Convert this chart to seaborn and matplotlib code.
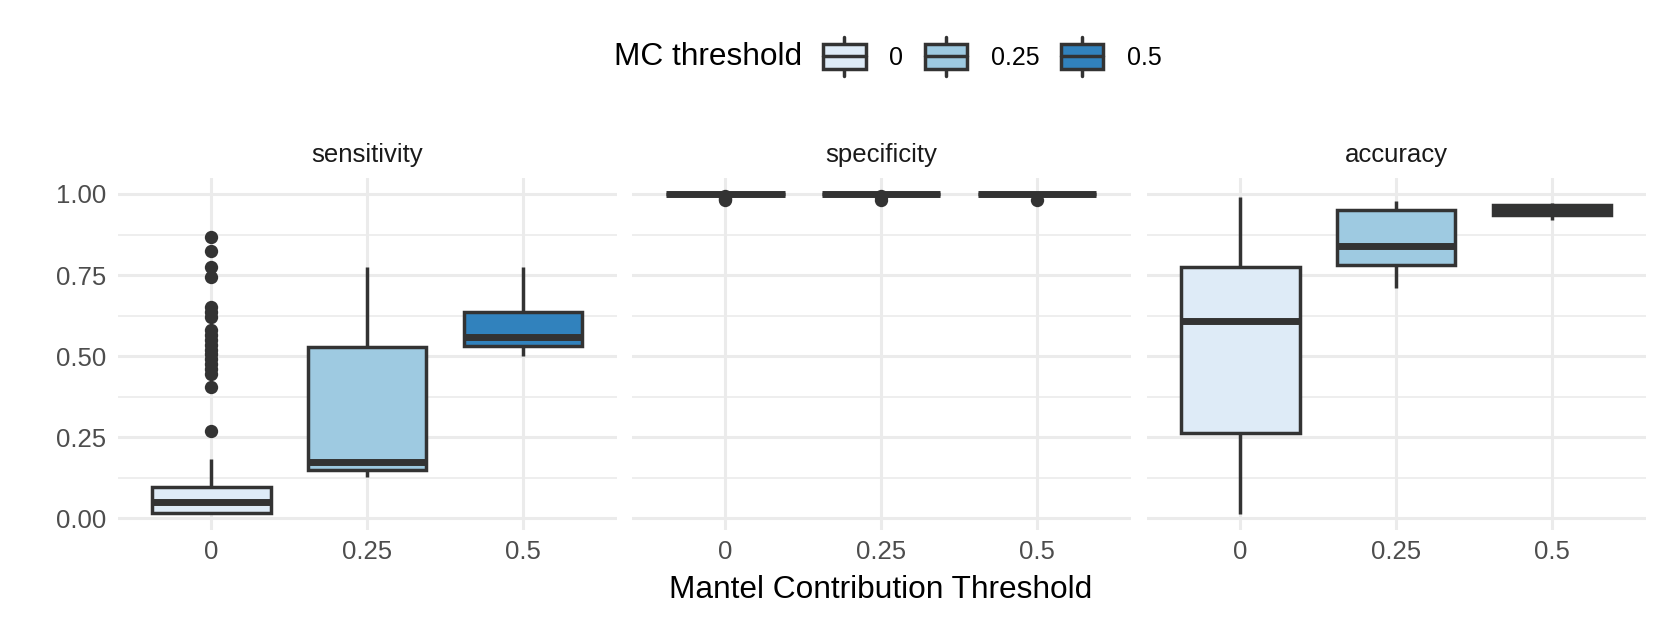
import numpy as np
import pandas as pd
import matplotlib
matplotlib.use("Agg")
import matplotlib.pyplot as plt
import seaborn as sns
from matplotlib.legend_handler import HandlerBase
from matplotlib.patches import Rectangle, Patch
from matplotlib.lines import Line2D
from matplotlib.ticker import FixedLocator

# ---------------- data ----------------
thresholds = ["0", "0.25", "0.5"]
metrics = ["sensitivity", "specificity", "accuracy"]
fill_colors = ["#DEEBF7", "#9ECAE1", "#3182BD"]

sens_0 = [0.013, 0.013, 0.013, 0.013, 0.013, 0.013, 0.013, 0.013,
          0.014, 0.014, 0.014, 0.014, 0.014, 0.014, 0.014, 0.014,
          0.015, 0.015, 0.015, 0.015, 0.015, 0.015, 0.015,
          0.017, 0.019, 0.021, 0.023, 0.025, 0.027, 0.029, 0.031, 0.033, 0.035,
          0.036, 0.037, 0.038, 0.039, 0.040, 0.041, 0.042, 0.043, 0.045, 0.046, 0.048,
          0.049,
          0.050, 0.052, 0.054, 0.056, 0.058, 0.060, 0.062, 0.064, 0.066, 0.068,
          0.070, 0.072, 0.074, 0.076, 0.078, 0.080, 0.082, 0.084, 0.088, 0.091, 0.094,
          0.096,
          0.120, 0.150, 0.182,
          0.269, 0.406, 0.445, 0.460, 0.475, 0.490, 0.505, 0.520, 0.535, 0.550,
          0.565, 0.580, 0.622, 0.637, 0.651, 0.743, 0.776, 0.825, 0.866]
sens_025 = [0.128, 0.140, 0.149, 0.160, 0.173, 0.350, 0.527, 0.650, 0.774]
sens_05 = [0.500, 0.520, 0.532, 0.550, 0.560, 0.600, 0.637, 0.700, 0.774]

spec_0 = [0.980, 0.985, 0.990, 0.995, 1.0, 1.0, 1.0, 1.0, 1.0, 1.0, 1.0, 1.0,
          1.0, 1.0, 1.0, 1.0, 1.0]
spec_025 = [0.980, 0.990, 0.995, 1.0, 1.0, 1.0, 1.0, 1.0, 1.0, 1.0, 1.0, 1.0, 1.0]
spec_05 = [0.980, 1.0, 1.0, 1.0, 1.0, 1.0, 1.0, 1.0, 1.0]

acc_0 = [0.013, 0.120, 0.264, 0.450, 0.608, 0.700, 0.774, 0.900, 0.992]
acc_025 = [0.709, 0.750, 0.781, 0.810, 0.841, 0.900, 0.951, 0.965, 0.978]
acc_05 = [0.920, 0.930, 0.935, 0.940, 0.950, 0.960, 0.966, 0.968, 0.971]

groups = {
    "sensitivity": [sens_0, sens_025, sens_05],
    "specificity": [spec_0, spec_025, spec_05],
    "accuracy": [acc_0, acc_025, acc_05],
}

rows = []
for m in metrics:
    for thr, vals in zip(thresholds, groups[m]):
        for v in vals:
            rows.append((m, thr, v))
df = pd.DataFrame(rows, columns=["metric", "threshold", "value"])

# ---------------- style ----------------
sns.set_theme(style="white")
plt.rcParams["font.family"] = ["Liberation Sans", "DejaVu Sans"]

LINE = "#333333"
GRID = "#EBEBEB"
TICKC = "#4D4D4D"
LW = 2.5
MLW = 5.0

fig = plt.figure(figsize=(16.61, 6.23), dpi=100)

lefts = [0.07086, 0.38031, 0.69036]
width = 0.30042
bottom = 0.1493
height = 0.565

lo = df["value"].min()
hi = df["value"].max()
pad = 0.05 * (hi - lo)

axes = []
for i, m in enumerate(metrics):
    ax = fig.add_axes([lefts[i], bottom, width, height])
    axes.append(ax)
    sub = df[df["metric"] == m]
    sns.boxplot(data=sub, x="threshold", y="value", hue="threshold",
                order=thresholds, hue_order=thresholds, palette=fill_colors,
                saturation=1, width=0.76, linewidth=LW, linecolor=LINE,
                fliersize=9.6, legend=False, ax=ax,
                flierprops=dict(marker="o", markerfacecolor=LINE,
                                markeredgecolor=LINE, markeredgewidth=0),
                medianprops=dict(linewidth=MLW, color=LINE),
                capprops=dict(linewidth=0))
    ax.set_xlim(-0.6, 2.6)
    ax.set_ylim(lo - pad, hi + pad)
    ax.set_yticks([0, 0.25, 0.5, 0.75, 1.0])
    ax.yaxis.set_minor_locator(FixedLocator([0.125, 0.375, 0.625, 0.875]))
    ax.grid(which="major", color=GRID, linewidth=2.2)
    ax.grid(which="minor", axis="y", color=GRID, linewidth=1.2)
    ax.set_axisbelow(True)
    for s in ax.spines.values():
        s.set_visible(False)
    ax.tick_params(which="both", length=0, labelsize=18.5, labelcolor=TICKC)
    ax.tick_params(axis="y", pad=8)
    ax.tick_params(axis="x", pad=7)
    ax.set_xlabel("")
    ax.set_ylabel("")
    if i == 0:
        ax.set_yticklabels(["0.00", "0.25", "0.50", "0.75", "1.00"])
    else:
        ax.set_yticklabels([])
    ax.set_facecolor("white")
    fig.text(lefts[i] + width / 2, 1 - 155 / 623, m, ha="center", va="center",
             fontsize=18.5, color="#1A1A1A")

fig.text(881 / 1661, 1 - 590 / 623, "Mantel Contribution Threshold",
         ha="center", va="center", fontsize=22.8, color="black")


# ---------------- legend ----------------
class BoxHandler(HandlerBase):
    def create_artists(self, legend, orig_handle, xdescent, ydescent,
                       width, height, fontsize, trans):
        x0, y0 = -xdescent, -ydescent
        fc = orig_handle.get_facecolor()
        rect = Rectangle((x0, y0), width, height, facecolor=fc,
                         edgecolor=LINE, linewidth=LW, transform=trans)
        xm = x0 + width / 2
        ym = y0 + height / 2
        med = Line2D([x0, x0 + width], [ym, ym], color=LINE, linewidth=LW,
                     transform=trans)
        w1 = Line2D([xm, xm], [y0 + height, y0 + height + 0.3 * height],
                    color=LINE, linewidth=LW, transform=trans)
        w2 = Line2D([xm, xm], [y0, y0 - 0.3 * height], color=LINE,
                    linewidth=LW, transform=trans)
        return [w1, w2, rect, med]


handles = [Patch(facecolor=c) for c in fill_colors]
leg = fig.legend(handles, thresholds, loc="center left",
                 bbox_to_anchor=(823 / 1661, 1 - 57 / 623), ncol=3,
                 frameon=False, fontsize=18, handlelength=1.7,
                 handleheight=1.15, handletextpad=0.95, columnspacing=0.85,
                 borderpad=0, borderaxespad=0,
                 handler_map={Patch: BoxHandler()})
for t in leg.get_texts():
    t.set_color("black")
fig.text(802 / 1661, 1 - 57 / 623, "MC threshold", ha="right", va="center",
         fontsize=22.8, color="black")

fig.savefig("out.png", dpi=100, facecolor="white")
